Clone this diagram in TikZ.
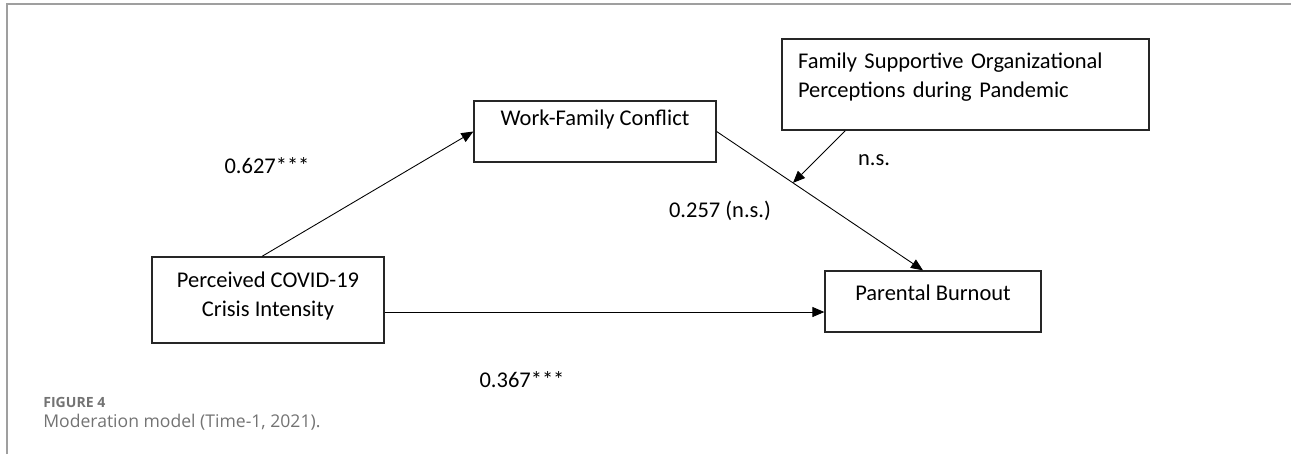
\documentclass[tikz,border=0pt]{standalone}
\usepackage{fontspec}
\setmainfont{Carlito}
\newfontfamily\capfont{Open Sans}
\usetikzlibrary{arrows.meta,calc}

\begin{document}
\begin{tikzpicture}[x=0.02cm, y=-0.02cm,
	box/.style={rectangle, draw=black!85, line width=0.75pt, inner ysep=0pt, align=center,
		font=\fontsize{12.8pt}{16.7pt}\selectfont, text height=0.3cm},
	arr/.style={draw=black, line width=0.5pt, -{Triangle[length=0.24cm,width=0.2cm]}},
	coef/.style={font=\fontsize{12.8pt}{16.7pt}\selectfont}]
	\useasboundingbox (0,0) rectangle (1291,454);
	\draw[gray!75, line width=1pt] (7,454) -- (7,4) -- (1291,4);

	\node (PC) at (268,300)		[box, minimum width=4.64cm, minimum height=1.72cm, text height=0.89cm, text depth=0.23cm]	{Perceived COVID-19\\Crisis Intensity};
	\node (WF) at (595,131.5)	[box, minimum width=4.84cm, minimum height=1.22cm, text depth=0.54cm]	{Work-Family Conflict};
	\node (FS) at (965.5,84.5)	[box, minimum width=7.34cm, minimum height=1.82cm, text depth=0.95cm,
		inner xsep=0.32cm, text width=6.7cm, align=left]	{Family Supportive Organizational\\Perceptions during Pandemic};
	\node (PB) at (933,301.5)	[box, minimum width=4.32cm, minimum height=1.22cm, text depth=0.35cm]	{Parental Burnout};

	\coordinate (PBtop) at ([xshift=-0.2cm]PB.north);
	\coordinate (M) at ($(WF.east)!0.37!(PBtop)$);
	\draw[arr] ([xshift=-0.12cm]PC.north) -- (WF.west);
	\draw[arr] (WF.east) -- (PBtop);
	\draw[arr] ([yshift=-0.24cm]PC.east) -- ([yshift=-0.24cm]PC.east -| PB.west);
	\draw[arr] ([xshift=1.28cm]FS.south west) -- (M);

	\node (b1) at (267,166)	[coef]	{0.627***};
	\node (b2) at (874,160)	[coef]	{n.s.};
	\node (b3) at (720,211)	[coef]	{0.257 (n.s.)};
	\node (b4) at (522,380)	[coef]	{0.367***};

	\node (fig) at (43,402)	[anchor=west, inner sep=0pt, text=black!55, font=\capfont\bfseries\fontsize{8pt}{9.5pt}\selectfont]	{FIGURE 4};
	\node (cap) at (43,422)	[anchor=west, inner sep=0pt, text=black!55, font=\capfont\fontsize{10pt}{12pt}\selectfont]	{Moderation model (Time-1, 2021).};
\end{tikzpicture}
\end{document}
